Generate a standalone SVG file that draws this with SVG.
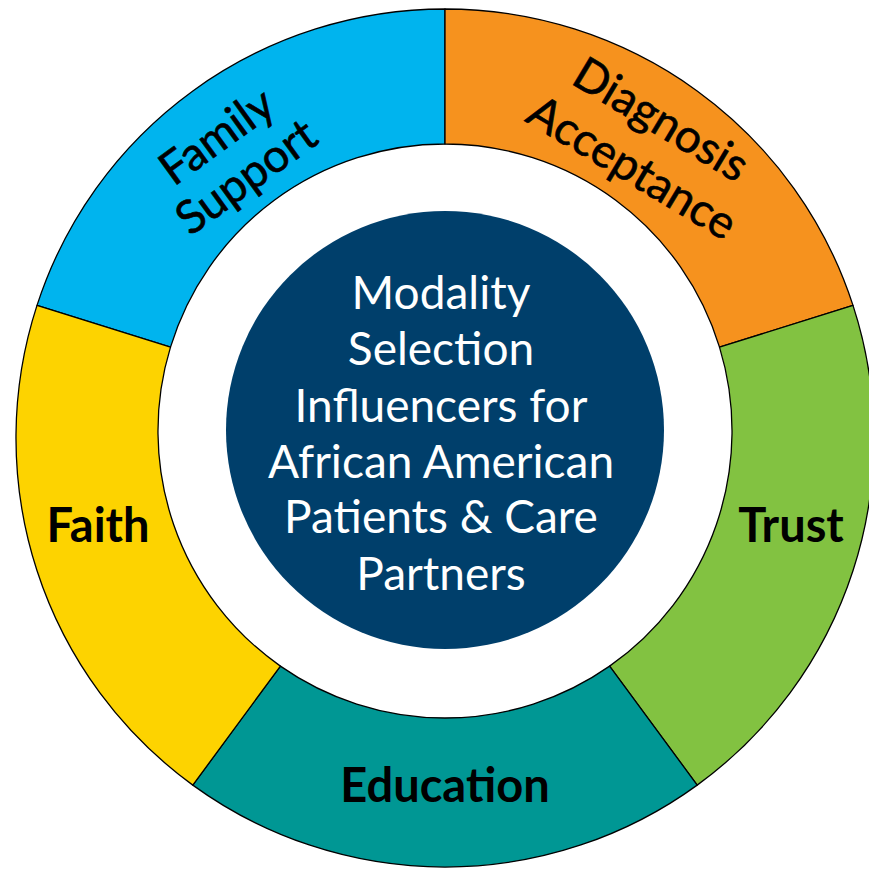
<svg xmlns="http://www.w3.org/2000/svg" width="869" height="870" viewBox="0 0 869 870">
<style>
.seg{stroke:#000;stroke-width:1.3;stroke-linejoin:round}
.lbl{font-family:Lato,"Open Sans","Liberation Sans",sans-serif;font-size:47px;fill:#000;text-anchor:middle}
.rot{font-size:46px;stroke:#000;stroke-width:0.6}
.b{font-weight:bold}
.ctr{font-family:Lato,"Open Sans","Liberation Sans",sans-serif;font-size:46px;fill:#fff;text-anchor:middle}
</style>
<rect width="869" height="870" fill="#fff"/>
<g id="family-support">
<path class="seg" fill="#00b4ee" d="M445,9 A429,429 0 0 0 37,305.4 L170.5,347.1 A287,287 0 0 1 445,144 Z"/>
<text class="lbl rot" transform="translate(226,149) rotate(-36)"><tspan x="0" y="0">Family</tspan><tspan x="0" y="50">Support</tspan></text>
</g>
<g id="diagnosis-acceptance">
<path class="seg" fill="#f6921e" d="M445,9 A429,429 0 0 1 853,305.4 L719.5,347.1 A287,287 0 0 0 445,144 Z"/>
<text class="lbl rot" transform="translate(653,133) rotate(31)"><tspan x="0" y="0">Diagnosis</tspan><tspan x="0" y="56">Acceptance</tspan></text>
</g>
<g id="trust">
<path class="seg" fill="#82c241" d="M853,305.4 A429,429 0 0 1 697.2,785.1 L609.6,666.1 A287,287 0 0 0 719.5,347.1 Z"/>
<text class="lbl b" x="791" y="542">Trust</text>
</g>
<g id="education">
<path class="seg" fill="#009794" d="M697.2,785.1 A429,429 0 0 1 192.8,785.1 L280.4,666.1 A287,287 0 0 0 609.6,666.1 Z"/>
<text class="lbl b" x="445" y="802">Education</text>
</g>
<g id="faith">
<path class="seg" fill="#fdd300" d="M192.8,785.1 A429,429 0 0 1 37,305.4 L170.5,347.1 A287,287 0 0 0 280.4,666.1 Z"/>
<text class="lbl b" x="98" y="542">Faith</text>
</g>
<g id="center">
<circle cx="445" cy="430" r="219" fill="#003f6b"/>
<text class="ctr"><tspan x="441" y="309">Modality</tspan><tspan x="441" y="365">Selection</tspan><tspan x="441" y="422">Influencers for</tspan><tspan x="441" y="478">African American</tspan><tspan x="441" y="533">Patients &amp; Care</tspan><tspan x="441" y="590">Partners</tspan></text>
</g>
<g id="connectors"></g>
</svg>
